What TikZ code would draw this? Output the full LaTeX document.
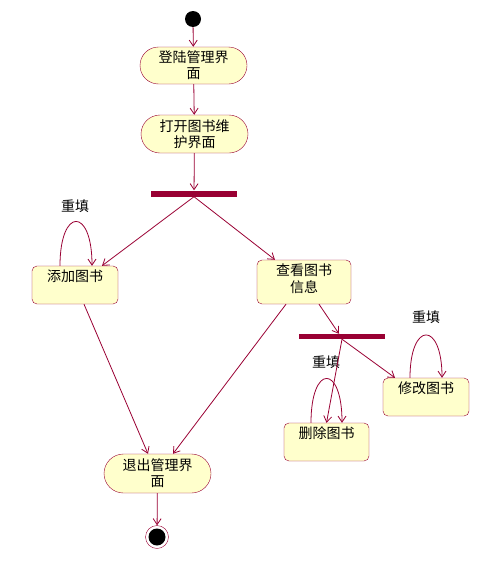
\documentclass[tikz,border=0pt]{standalone}
\usepackage{fontspec}
\setmainfont{Noto Sans CJK SC}
\usetikzlibrary{arrows.meta,shapes.misc}
\definecolor{umlred}{RGB}{153,0,51}
\definecolor{umlfill}{RGB}{255,255,204}
\tikzset{
    actstate/.style={rounded rectangle,draw=umlred,fill=umlfill,align=center,
        minimum width=109pt,minimum height=37pt,inner sep=1pt,font=\fontsize{14}{16}\selectfont},
    actbox/.style={draw=umlred,fill=umlfill,rounded corners=5pt,minimum width=86pt,minimum height=38pt},
    boxtext/.style={anchor=north,inner sep=4pt,align=center,font=\fontsize{14}{17}\selectfont},
    syncbar/.style={fill=umlred,minimum width=86pt,minimum height=6pt,inner sep=0pt},
    flow/.style={draw=umlred,line width=0.8pt,-{Straight Barb[length=6pt,width=8pt]}},
    loopnote/.style={font=\fontsize{14}{16}\selectfont}
}

\begin{document}
\begin{tikzpicture}[x=1pt,y=-1pt]
		\useasboundingbox (0,0) rectangle (500,562);
		\node[circle,fill=black,minimum size=16pt,inner sep=0pt] (start) at (193,19) {};
		\node[actstate] (login) at (193.5,65.5) {登陆管理界\\面};
		\node[actstate,minimum height=38pt] (open) at (194.5,134) {打开图书维\\护界面};
		\node[syncbar] (fork) at (194,193.5) {};
		\node[actbox,label={[boxtext,name=addT]north:添加图书}] (add) at (75,285) {};
		\node[actbox,minimum width=94pt,minimum height=44pt,label={[boxtext,name=viewT]north:查看图书\\信息}] (view) at (304,282) {};
		\node[syncbar,minimum height=5pt] (fork2) at (342,336.5) {};
		\node[actbox,label={[boxtext,name=editT]north:修改图书}] (edit) at (426,397) {};
		\node[actbox,minimum width=85pt,label={[boxtext,name=delT]north:删除图书}] (del) at (326.5,442) {};
		\node[actstate,minimum height=39pt] (exit) at (157.5,473.5) {退出管理界\\面};
		\node[circle,draw=umlred,fill=white,minimum size=23pt,inner sep=0pt] (end) at (157,537) {};
		\node[circle,fill=black,minimum size=17pt,inner sep=0pt] (endDot) at (end) {};
		% loop labels
		\node[loopnote] (addRe) at (75,206) {重填};
		\node[loopnote] (delRe) at (326,362) {重填};
		\node[loopnote] (editRe) at (426,317) {重填};
		% transitions
		\draw[flow] (start) -- (login);
		\draw[flow] (login) -- (open);
		\draw[flow] (open) -- (fork);
		\draw[flow] (fork.south) -- ([xshift=27pt]add.north);
		\draw[flow] (fork.south) -- ([xshift=-29pt]view.north);
		\draw[flow] ([xshift=15pt]view.south) -- ([xshift=-3pt]fork2.north);
		\draw[flow] (fork2.south) -- ([xshift=-31pt]edit.north);
		\draw[flow] (fork2.south) -- (del.north);
		\draw[flow] ([xshift=9pt]add.south) -- ([xshift=-9.5pt]exit.north);
		\draw[flow] ([xshift=-18pt]view.south) -- ([xshift=15.5pt]exit.north);
		\draw[flow] (exit) -- (end);
		\draw[flow] ([xshift=-15pt]add.north) .. controls +(0,-59) and +(0,-59) .. ([xshift=17pt]add.north);
		\draw[flow] ([xshift=-15.5pt]del.north) .. controls +(0,-59) and +(0,-59) .. ([xshift=15.5pt]del.north);
		\draw[flow] ([xshift=-16pt]edit.north) .. controls +(0,-57) and +(0,-57) .. ([xshift=16pt]edit.north);
	\end{tikzpicture}
\end{document}
